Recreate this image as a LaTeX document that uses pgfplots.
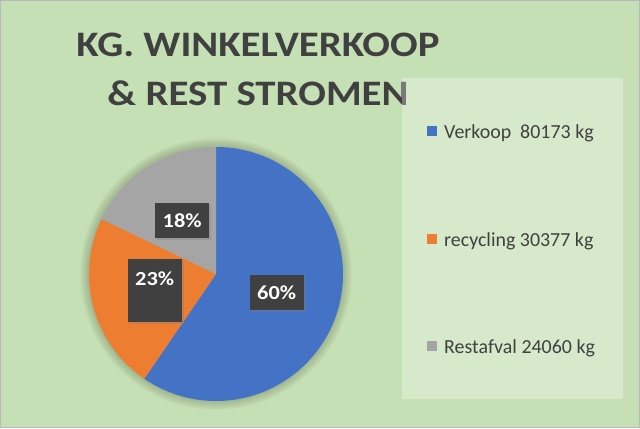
\documentclass[border=0pt]{standalone}
\usepackage{pgfplots}
\pgfplotsset{compat=1.18}
\usepackage{pgfplotstable}
\usepackage{fontspec}
\setmainfont{Carlito}
\usetikzlibrary{shadows}

\definecolor{bg}{HTML}{C5E0B4}
\definecolor{txt}{HTML}{404040}
\definecolor{cBlue}{HTML}{4472C4}
\definecolor{cOrange}{HTML}{ED7D31}
\definecolor{cGray}{HTML}{A5A5A5}

% kg per stream
\pgfplotstableread{
name value
Verkoop 80173
recycling 30377
Restafval 24060
}\piedata

\pgfplotstablegetelem{0}{value}\of\piedata\edef\va{\pgfplotsretval}
\pgfplotstablegetelem{1}{value}\of\piedata\edef\vb{\pgfplotsretval}
\pgfplotstablegetelem{2}{value}\of\piedata\edef\vc{\pgfplotsretval}
\edef\tot{\fpeval{\va+\vb+\vc}}
% slice angles, clockwise from the top
\edef\aA{\fpeval{90-360*\va/\tot}}
\edef\aB{\fpeval{\aA-360*\vb/\tot}}
\edef\aC{\fpeval{\aB-360*\vc/\tot}}
\edef\pA{\fpeval{round(100*\va/\tot)}}
\edef\pB{\fpeval{round(100*\vb/\tot)}}
\edef\pC{\fpeval{round(100*\vc/\tot)}}
% label positions at half radius
\def\cx{216}\def\cy{154}\def\R{127}
\edef\xA{\fpeval{\cx+0.5*\R*cosd((90+\aA)/2)}}\edef\yA{\fpeval{\cy+0.5*\R*sind((90+\aA)/2)}}
\edef\xB{\fpeval{\cx+0.5*\R*cosd((\aA+\aB)/2)}}\edef\yB{\fpeval{\cy+0.5*\R*sind((\aA+\aB)/2)}}
\edef\xC{\fpeval{\cx+0.5*\R*cosd((\aB+\aC)/2)}}\edef\yC{\fpeval{\cy+0.5*\R*sind((\aB+\aC)/2)}}

\newcommand\wide[2]{\scalebox{#1}[1]{#2}}

\begin{document}
\begin{tikzpicture}[
    lbl/.style={fill=txt, text=white, font=\fontsize{20}{24}\selectfont\bfseries,
        minimum width=54bp, minimum height=35bp, inner sep=0pt,
        drop shadow={shadow xshift=2bp, shadow yshift=-2bp, opacity=0.35}},
    legtxt/.style={text=txt, anchor=base west, font=\fontsize{20}{24}\selectfont, inner sep=0pt},
    ttl/.style={text=txt, anchor=base, font=\fontsize{36}{42}\selectfont\bfseries, inner sep=0pt},
]
\begin{axis}[
    x=1bp, y=1bp,
    xmin=0, xmax=640, ymin=0, ymax=428,
    hide axis, clip=false,
]
% background
\fill[bg] (axis cs:0,0) rectangle (axis cs:640,428);
\draw[gray!55, line width=1bp] (axis cs:0.5,0.5) rectangle (axis cs:639.5,427.5);
\coordinate (bgsw) at (axis cs:0,0);
\coordinate (bgne) at (axis cs:640,428);

% title
\node[ttl] at (axis cs:258,372) {\wide{1.14}{KG. WINKELVERKOOP}};
\node[ttl] at (axis cs:258,323) {\wide{1.14}{\& REST STROMEN}};

% soft halo behind the pie
\pgfplotsinvokeforeach{1,...,9}{
    \fill[black, opacity=0.018] (axis cs:\cx,\cy) circle[radius={\R+#1}];
}

% slices
\fill[cBlue] (axis cs:\cx,\cy) -- ++(90:\R) arc[start angle=90, end angle=\aA, radius=\R] -- cycle;
\fill[cOrange] (axis cs:\cx,\cy) -- ++(\aA:\R) arc[start angle=\aA, end angle=\aB, radius=\R] -- cycle;
\fill[cGray] (axis cs:\cx,\cy) -- ++(\aB:\R) arc[start angle=\aB, end angle=\aC, radius=\R] -- cycle;

% data labels
\node[lbl] at (axis cs:\xA,\yA) {\wide{1.12}{\pA\%}};
\node[lbl, minimum height=63bp] at (axis cs:\xB,\yB) {};
\node[text=white, font=\fontsize{20}{24}\selectfont\bfseries] at (axis cs:\xB,\yB+11.5) {\wide{1.12}{\pB\%}};
\node[lbl] at (axis cs:\xC,\yC) {\wide{1.12}{\pC\%}};

% legend
\fill[white, opacity=0.3] (axis cs:402,350) rectangle (axis cs:623,29);
\fill[cBlue] (axis cs:427,292) rectangle (axis cs:437,302);
\node[legtxt] at (axis cs:444,290) {Verkoop\ \ \va\ kg};
\fill[cOrange] (axis cs:427,184) rectangle (axis cs:437,194);
\node[legtxt] at (axis cs:444,182) {recycling \vb\ kg};
\fill[cGray] (axis cs:427,77) rectangle (axis cs:437,87);
\node[legtxt] at (axis cs:444,75) {Restafval \vc\ kg};
\end{axis}
\pgfresetboundingbox
\path[use as bounding box] (bgsw) rectangle (bgne);
\end{tikzpicture}
\end{document}
